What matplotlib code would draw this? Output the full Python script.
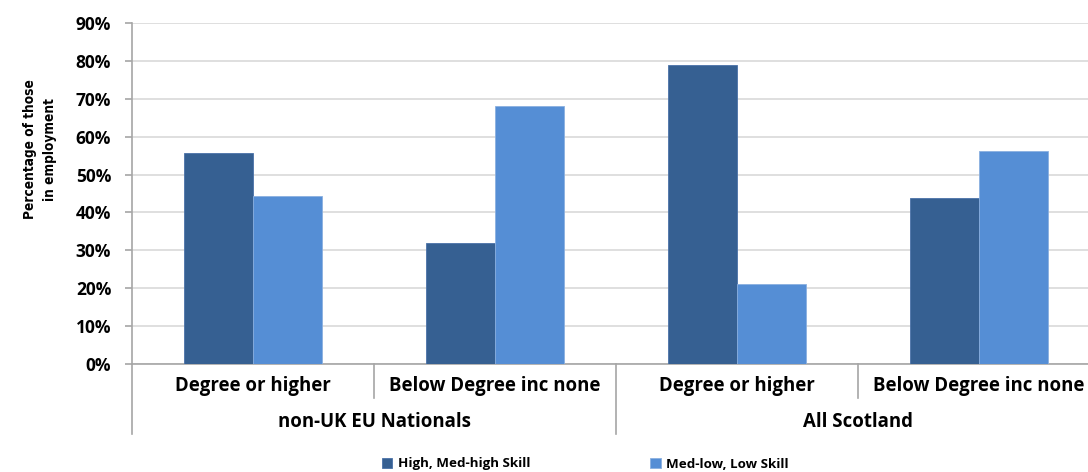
import numpy as np
import matplotlib
matplotlib.use('Agg')
from matplotlib import pyplot as plt

groups = ['non-UK EU Nationals', 'All Scotland']
levels = ['Degree or higher', 'Below Degree inc none']
series_names = ['High, Med-high Skill', 'Med-low, Low Skill']
high_skill = [55.6, 32.0, 79.0, 43.8]
low_skill = [44.4, 68.0, 21.0, 56.2]
yticks = [0, 10, 20, 30, 40, 50, 60, 70, 80, 90]

dark = '#366092'
light = '#558ed5'
grey = '#a6a6a6'

plt.rcParams['font.family'] = ['Open Sans', 'DejaVu Sans']

W, H = 1088, 472
fig = plt.figure(figsize=(W / 100, H / 100), dpi=100)
x0, x1 = 132, 1100
y0, y1 = 364, 23
ax = fig.add_axes([x0 / W, 1 - y0 / H, (x1 - x0) / W, (y0 - y1) / H])

x = np.arange(len(high_skill))
bw = 0.285
b1 = ax.bar(x - bw / 2, high_skill, bw, color=dark, edgecolor='#4a72a8', linewidth=0.6, zorder=3)
b2 = ax.bar(x + bw / 2, low_skill, bw, color=light, edgecolor='#8ab0e0', linewidth=0.6, zorder=3)

ax.set_xlim(-0.5, 3.5)
ax.set_ylim(0, 90)
ax.set_yticks(yticks)
ax.set_yticklabels([f'{v}%' for v in yticks], fontsize=12.5, fontweight='bold')
ax.yaxis.grid(True, color='#d9d9d9', linewidth=1.2, zorder=0)
ax.set_xticks([])
for s in ['top', 'right']:
    ax.spines[s].set_visible(False)
ax.spines['left'].set_color(grey)
ax.spines['bottom'].set_color(grey)
ax.spines['left'].set_linewidth(1.2)
ax.spines['bottom'].set_linewidth(1.2)
ax.tick_params(axis='y', length=5, color=grey, width=1.2, pad=10)

ax.set_ylabel('Percentage of those\nin employment', fontsize=9.8, fontweight='bold',
              family='DejaVu Sans', fontstretch='condensed', linespacing=1.6)
ax.yaxis.set_label_coords(-0.077, 0.63)

# two-level category axis below the plot
trans = ax.get_xaxis_transform()
for i, lab in enumerate(levels * 2):
    ax.text(i, -0.065, lab, transform=trans, ha='center', va='center',
            fontsize=13.4, fontweight='bold')
for g, lab in enumerate(groups):
    ax.text(2 * g + 0.5, -0.17, lab, transform=trans, ha='center', va='center',
            fontsize=13.4, fontweight='bold')
for xs in [-0.5, 1.5]:
    ax.plot([xs, xs], [0, -0.205], transform=trans, color=grey, lw=1.2, clip_on=False)
for xs in [0.5, 2.5]:
    ax.plot([xs, xs], [0, -0.10], transform=trans, color=grey, lw=1.2, clip_on=False)

fig.legend([b1, b2], series_names, loc='center', bbox_to_anchor=(0.538, 1 - 464 / H),
           ncol=2, frameon=False, prop={'weight': 'bold', 'size': 9.6},
           handlelength=0.8, handleheight=0.8, columnspacing=9, handletextpad=0.4)

fig.savefig('out.png', dpi=100)
